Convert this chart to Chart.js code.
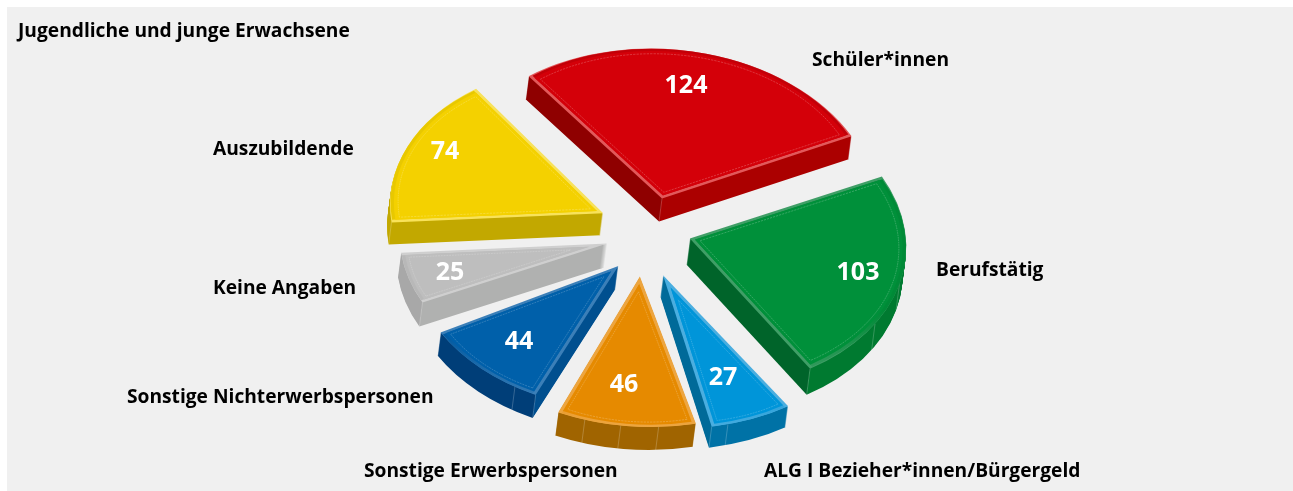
<!DOCTYPE html>
<html lang="de">
<head>
<meta charset="utf-8">
<style>html,body{margin:0;padding:0;background:#fff}canvas{display:block}</style>
<script src="https://cdn.jsdelivr.net/npm/chart.js@4"></script>
</head>
<body>
<canvas id="c" width="1293" height="491"></canvas>
<script>
const categories = ["Schüler*innen","Berufstätig","ALG I Bezieher*innen/Bürgergeld","Sonstige Erwerbspersonen","Sonstige Nichterwerbspersonen","Keine Angaben","Auszubildende"];
const values = [124,103,27,46,44,25,74];
const titleText = "Jugendliche und junge Erwachsene";

const topColors  = ["#d40009","#00903a","#0095d9","#e68a00","#0060aa","#bebebe","#f4d100"];
const bevelTints = ["#e2585a","#3f9e66","#4aaee0","#eda53f","#3b7fb8","#cfcfcf","#f8e25a"];
const bevelDarks = ["#c20008","#008a37","#0090d2","#dc8400","#0059a0","#b8b8b8","#e8c800"];
const wallLeft   = ["#8f0000","#00642a","#006a99","#a06400","#003e78","#a8a8a8","#c2a800"];
const wallRight  = ["#ab0000","#007a30","#0072a6","#a06400","#004f8f","#b0b1b0","#c2a800"];
const explode    = [67,45,45,47,40,41,47];
const nudgeY     = [0,-14,2,0,2,-9,-18];
const twist      = [1.7,2,1,-1.3,0,3.5,3.6];
const sizeFactor = [0.995,1.005,1.02,1.0,0.96,0.965,0.99];
const depths     = [23,26,21,23,23,24,22];
const facets     = [[],[0.5,0.7],[0.8],[0.27,0.54,0.8],[0.18],[],[]];

const SQUASH = 0.7, SHEAR = 0.08, LEAN = -0.13, RADIUS = 215, BAND = 2.6, LINE_INSET = 5.5;
const FONT = '"Open Sans", sans-serif';

const valueAnchors = [[686,86],[858,273],[723,378],[624,385],[519,342],[450,273],[445,152]];
const labelAnchors = [[812,61],[936,271],[764,472],[364,472],[127,398],[213,289],[213,150]];

function withOptions(arc, opts, fn){
  const saved = arc.options;
  arc.options = Object.assign({offset:0,spacing:0,borderWidth:0,borderColor:'transparent',borderAlign:'center',borderRadius:0,circular:true,borderJoinStyle:'miter',borderDash:[],borderDashOffset:0}, opts);
  fn();
  arc.options = saved;
}
function place(ctx, arc, i, wall){
  const mid = (arc.startAngle + arc.endAngle) / 2;
  ctx.translate(arc.x + Math.cos(mid)*explode[i] + LEAN*wall,
                arc.y + Math.sin(mid)*explode[i]*SQUASH + wall + nudgeY[i]);
  ctx.transform(1,0,SHEAR,1,0,0);
  ctx.scale(1, SQUASH);
  ctx.rotate(twist[i] * Math.PI / 180);
  ctx.scale(sizeFactor[i], sizeFactor[i]);
  ctx.translate(-arc.x, -arc.y);
}
function frontCorner(arc){
  const pts = [[arc.x,arc.y],
    [arc.x+arc.outerRadius*Math.cos(arc.startAngle),arc.y+arc.outerRadius*Math.sin(arc.startAngle)],
    [arc.x+arc.outerRadius*Math.cos(arc.endAngle),arc.y+arc.outerRadius*Math.sin(arc.endAngle)]];
  pts.sort((a,b)=>b[1]-a[1]);
  return pts[0];
}
function insetAbout(ctx, arc, inset){
  const R = arc.outerRadius, half = (arc.endAngle - arc.startAngle) / 2, mid = arc.startAngle + half;
  const sinH = Math.sin(half), rIn = R * sinH / (1 + sinH), s = 1 - inset / rIn;
  const ix = arc.x + Math.cos(mid)*(R-rIn), iy = arc.y + Math.sin(mid)*(R-rIn);
  ctx.translate(ix,iy); ctx.scale(s,s); ctx.translate(-ix,-iy);
}
function drawSlice(ctx, arc, i){
  const R = arc.outerRadius, half = (arc.endAngle - arc.startAngle) / 2, mid = arc.startAngle + half;
  const cosM = Math.cos(mid), sinM = Math.sin(mid), sinH = Math.sin(half), DEPTH = depths[i];
  // walls
  const x0 = arc.x - R - 10, x1 = arc.x + R + 10;
  const corner = frontCorner(arc);
  const t = (corner[0] - x0) / (x1 - x0);
  for (let d = DEPTH; d >= 1; d--){
    ctx.save();
    place(ctx, arc, i, d);
    const g = ctx.createLinearGradient(x0,0,x1,0);
    g.addColorStop(0,wallLeft[i]); g.addColorStop(t,wallLeft[i]);
    g.addColorStop(t,wallRight[i]); g.addColorStop(1,wallRight[i]);
    withOptions(arc,{backgroundColor:g},()=>arc.draw(ctx));
    ctx.restore();
  }
  // thin seam lines on the wall
  ctx.save(); place(ctx, arc, i, 0); const m = ctx.getTransform(); ctx.restore();
  const seam = (lx,ly)=>{
    const p = m.transformPoint(new DOMPoint(lx,ly));
    ctx.beginPath(); ctx.moveTo(p.x,p.y); ctx.lineTo(p.x+LEAN*DEPTH,p.y+DEPTH); ctx.stroke();
  };
  ctx.save();
  ctx.strokeStyle='rgba(255,255,255,0.3)'; ctx.lineWidth=0.7;
  facets[i].forEach(f=>{const a=arc.startAngle + f*(arc.endAngle-arc.startAngle); seam(arc.x+R*Math.cos(a),arc.y+R*Math.sin(a));});
  seam(corner[0],corner[1]);
  ctx.restore();
  // top: tinted bevel
  ctx.save();
  place(ctx, arc, i, 0);
  withOptions(arc,{backgroundColor:bevelTints[i]},()=>arc.draw(ctx));
  ctx.restore();
  // outer band: dark at the back, light at the front
  const shift = (BAND + 1) / Math.max(sinH, 0.1);
  ctx.save();
  place(ctx, arc, i, 0);
  ctx.translate(cosM*shift, sinM*shift);
  const vg = ctx.createLinearGradient(0,arc.y-R-shift,0,arc.y+R);
  vg.addColorStop(0,bevelDarks[i]); vg.addColorStop(0.72,bevelDarks[i]); vg.addColorStop(0.97,bevelTints[i]); vg.addColorStop(1,bevelTints[i]);
  const oR = arc.outerRadius;
  arc.outerRadius = oR - shift;
  withOptions(arc,{backgroundColor:vg},()=>arc.draw(ctx));
  arc.outerRadius = oR;
  ctx.restore();
  // main face
  ctx.save();
  place(ctx, arc, i, 0);
  insetAbout(ctx, arc, BAND + 0.8);
  withOptions(arc,{backgroundColor:topColors[i]},()=>arc.draw(ctx));
  ctx.restore();
  // fine dotted line further in
  ctx.save();
  place(ctx, arc, i, 0);
  insetAbout(ctx, arc, LINE_INSET + 1.5);
  withOptions(arc,{backgroundColor:'transparent',borderWidth:0.7,borderColor:'rgba(255,255,255,0.38)',borderDash:[2.5,1.2]},()=>arc.draw(ctx));
  ctx.restore();
}
const pie3d = {
  id:'pie3d',
  beforeDraw(chart){
    const ctx = chart.ctx;
    ctx.save(); ctx.fillStyle='#f0f0f0'; ctx.fillRect(7,7,1286,484); ctx.restore();
  },
  beforeDatasetDraw(chart, args){
    const ctx = chart.ctx;
    args.meta.data.forEach((arc,i)=>drawSlice(ctx,arc,i));
    return false;
  },
  afterDatasetsDraw(chart){
    const ctx = chart.ctx;
    ctx.save();
    ctx.textBaseline='middle';
    ctx.fillStyle='#000'; ctx.textAlign='left'; ctx.font='700 19.2px '+FONT;
    categories.forEach((c,i)=>ctx.fillText(c,labelAnchors[i][0],labelAnchors[i][1]));
    ctx.fillStyle='#fff'; ctx.textAlign='center'; ctx.font='700 25px '+FONT;
    values.forEach((v,i)=>ctx.fillText(String(v),valueAnchors[i][0],valueAnchors[i][1]));
    ctx.restore();
  }
};
new Chart(document.getElementById('c'),{
  type:'pie',
  data:{labels:categories,datasets:[{data:values,backgroundColor:topColors,borderWidth:0}]},
  plugins:[pie3d],
  options:{
    responsive:false,animation:false,rotation:-37,radius:RADIUS,
    layout:{padding:{left:18,right:18,top:20,bottom:46}},
    plugins:{legend:{display:false},tooltip:{enabled:false},
      title:{display:true,text:titleText,align:'start',color:'#000',padding:0,font:{family:FONT,size:19.2,weight:'700'}}}
  }
});
</script>
</body>
</html>
